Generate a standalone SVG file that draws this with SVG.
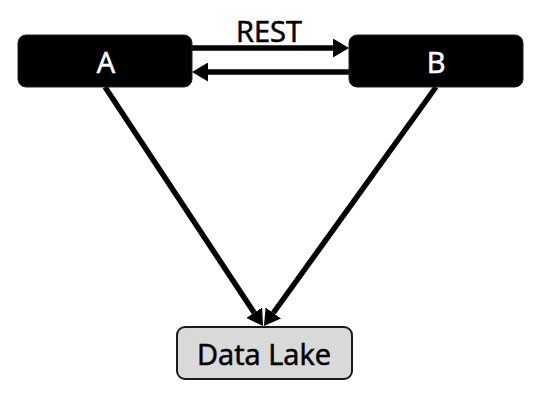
<svg xmlns="http://www.w3.org/2000/svg" width="550" height="402" viewBox="0 0 550 402">
<style>
.lbl{font-family:"Open Sans","Noto Sans","DejaVu Sans",sans-serif;font-size:29px;text-anchor:middle;stroke-width:0.6}
.dark{fill:#000;stroke:#222;stroke-width:1}
.light{fill:#d9d9d9;stroke:#1a1a1a;stroke-width:2}
.edge{stroke:#000;stroke-width:5.5;fill:none;marker-end:url(#ah)}
</style>
<defs>
<marker id="ah" markerUnits="userSpaceOnUse" markerWidth="17" markerHeight="19" refX="0" refY="9.5" orient="auto">
<path d="M0,0 L16,9.5 L0,19 Z" fill="#000"/>
</marker>
</defs>
<rect width="550" height="402" fill="#fff"/>
<g id="connectors">
<line class="edge" x1="192" y1="48" x2="333" y2="48"/>
<line class="edge" x1="349" y1="72" x2="208" y2="72"/>
<line class="edge" x1="105" y1="87" x2="254.2" y2="312.7"/>
<line class="edge" x1="436" y1="87" x2="273.3" y2="313"/>
<text class="lbl" x="269" y="42" fill="#000" stroke="#000">REST</text>
</g>
<g id="A">
<rect class="dark" x="18" y="35" width="174" height="52" rx="8"/>
<text class="lbl" x="106" y="73" fill="#fff" stroke="#fff">A</text>
</g>
<g id="B">
<rect class="dark" x="349" y="35" width="174" height="52" rx="8"/>
<text class="lbl" x="436" y="73" fill="#fff" stroke="#fff">B</text>
</g>
<g id="DataLake">
<rect class="light" x="177" y="327" width="175" height="52" rx="8"/>
<text class="lbl" x="264" y="365" fill="#000" stroke="#000">Data Lake</text>
</g>
</svg>
